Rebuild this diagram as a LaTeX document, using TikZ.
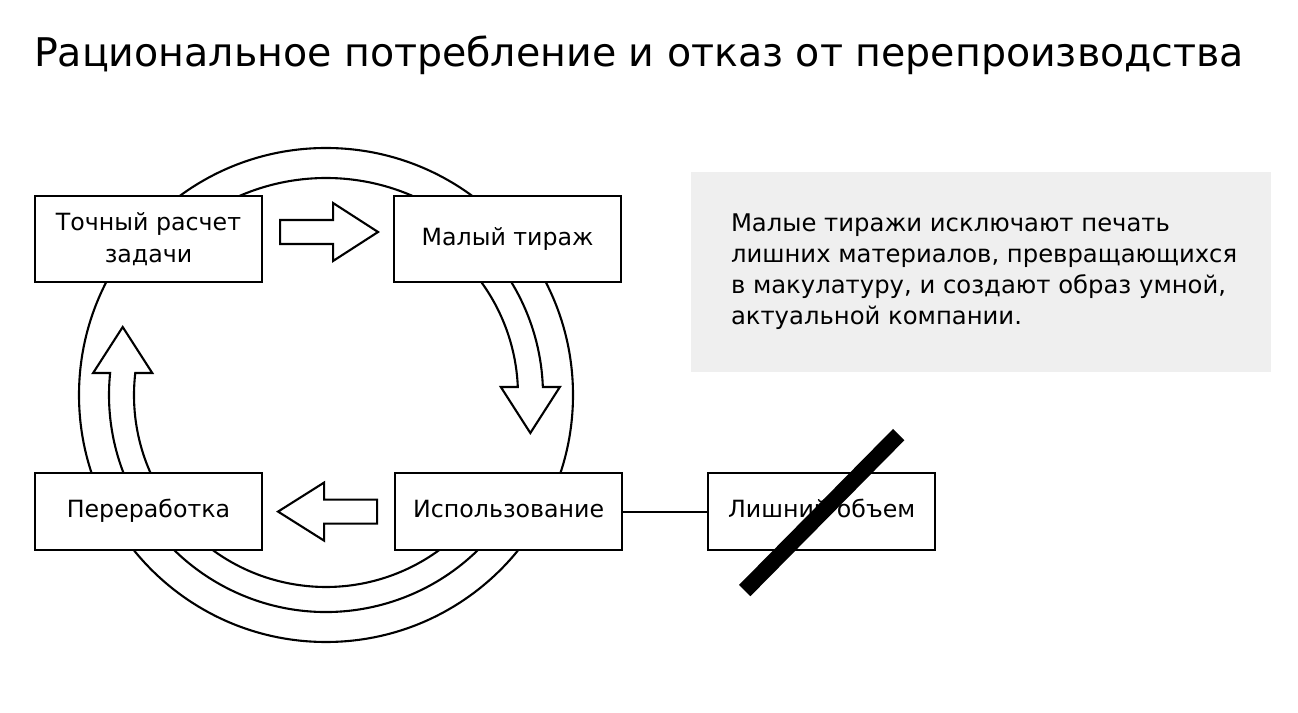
\documentclass[tikz,border=0pt]{standalone}
\usepackage{fontspec}
\setmainfont{DejaVu Sans}
\usetikzlibrary{positioning,calc}
\definecolor{panelgray}{RGB}{239,239,239}

\begin{document}
\begin{tikzpicture}[
  x=1pt, y=1pt,
  line width=2.1pt,
  box/.style={draw, fill=white, minimum width=227pt, inner sep=0pt, align=center, font=\fontsize{23.7}{32}\selectfont},
  blk/.style={draw, fill=white, line join=miter}
]
\useasboundingbox (0,0) rectangle (1298,712);

\node[anchor=base west, inner sep=0pt, font=\fontsize{39.5}{48}\selectfont] (title) at (33,645) {Рациональное потребление и отказ от перепроизводства};

% cycle rings
\coordinate (c) at (326,317);
\path (c) ++(2.39:192) coordinate (ri) (c) ++(2.11:217) coordinate (ro)
      (c) ++(173.42:192) coordinate (li) (c) ++(174.18:217) coordinate (lo);
\draw (c) circle[radius=247];
\draw (c) ++(140:217) arc[start angle=140, end angle=2.11, radius=217]
  -- ++(17,0) -- ($(ri)!0.5!(ro)+(0,-46)$) -- ($(ri)+(-17,0)$) -- (ri)
  arc[start angle=2.39, end angle=40, radius=192];
\draw (c) ++(333:217) arc[start angle=333, end angle=174.18, radius=217]
  -- ++(-17,0) -- ($(li)!0.5!(lo)+(0,46)$) -- ($(li)+(17,0)$) -- (li)
  arc[start angle=173.42, end angle=333, radius=192];

% boxes
\node[box, minimum height=86pt] (calc) at (148.5,473) {Точный расчет\\задачи};
\node[box, minimum height=86pt, right=130pt of calc] (small) {Малый тираж\strut};
\node[box, minimum height=77pt, below=189pt of calc] (recycle) {Переработка\strut};
\node[box, minimum height=77pt, right=131pt of recycle] (use) {Использование\strut};
\node[box, minimum height=77pt, right=84pt of use] (extra) {Лишний объем\strut};

% block arrows
\draw[blk] ($(calc.east)+(17,19)$) -- ++(53,0) -- ++(0,17) -- ++(45,-29)
  -- ++(-45,-29) -- ++(0,17) -- ++(-53,0) -- cycle;
\draw[blk] ($(use.west)+(-17,12)$) -- ++(-53,0) -- ++(0,17) -- ++(-46,-29)
  -- ++(46,-29) -- ++(0,17) -- ++(53,0) -- cycle;

\draw (use) -- (extra);
\draw[line width=16pt] ($(extra.center)+(-77,-79)$) -- ($(extra.center)+(77,77)$);

% note
\node[fill=panelgray, minimum width=580pt, minimum height=200pt, inner sep=0pt] (panel) at (981,440) {};
\node[anchor=west, align=left, inner sep=0pt, font=\fontsize{24.3}{31}\selectfont] (note) at ($(panel.west)+(40,0)$)
  {Малые тиражи исключают печать\\лишних материалов, превращающихся\\в макулатуру, и создают образ умной,\\актуальной компании.};
\end{tikzpicture}
\end{document}
